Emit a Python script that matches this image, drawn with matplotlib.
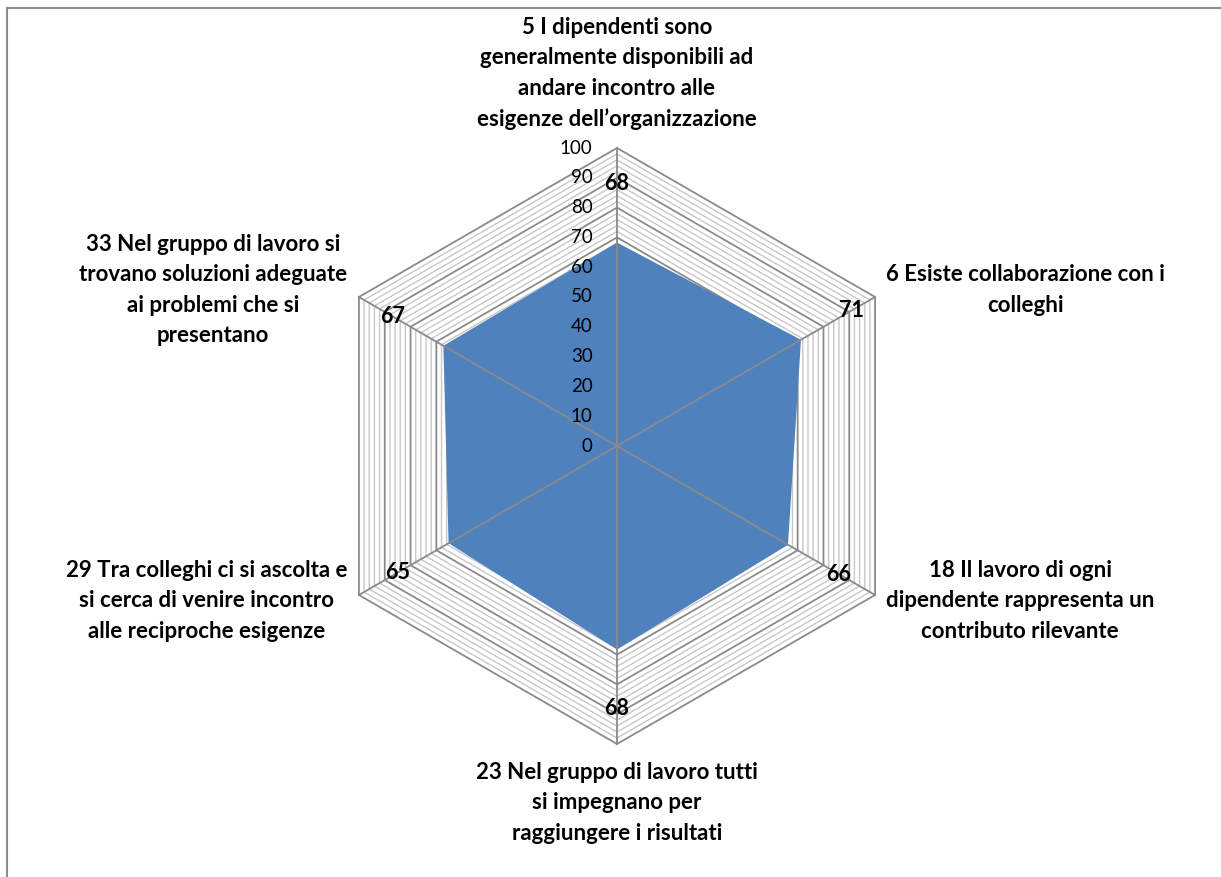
import numpy as np
import matplotlib
matplotlib.use("Agg")
import matplotlib.pyplot as plt
from matplotlib.patches import Rectangle, Polygon

# Dati
categorie = [
    "5 I dipendenti sono\ngeneralmente disponibili ad\nandare incontro alle\nesigenze dell\u2019organizzazione",
    "6 Esiste collaborazione con i\ncolleghi",
    "18 Il lavoro di ogni\ndipendente rappresenta un\ncontributo rilevante",
    "23 Nel gruppo di lavoro tutti\nsi impegnano per\nraggiungere i risultati",
    "29 Tra colleghi ci si ascolta e\nsi cerca di venire incontro\nalle reciproche esigenze",
    "33 Nel gruppo di lavoro si\ntrovano soluzioni adeguate\nai problemi che si\npresentano",
]
valori = [68, 71, 66, 68, 65, 67]
tick_major = [0, 10, 20, 30, 40, 50, 60, 70, 80, 90, 100]
tick_minor = list(range(2, 101, 2))

plt.rcParams['font.family'] = ['Lato', 'DejaVu Sans']

W, H, dpi = 1221, 877, 100
cx, cy, scala = 617, 446, 2.98  # centro in pixel, pixel per unita'

fig = plt.figure(figsize=(W / dpi, H / dpi), dpi=dpi)
ax = fig.add_axes([0, 0, 1, 1])
ax.set_xlim(-cx / scala, (W - cx) / scala)
ax.set_ylim(-(H - cy) / scala, cy / scala)
ax.axis('off')

n = len(valori)
ang = np.pi / 2 - np.arange(n) * 2 * np.pi / n  # in senso orario dall'alto
ux, uy = np.cos(ang), np.sin(ang)

def anello(r):
    return np.append(ux * r, ux[0] * r), np.append(uy * r, uy[0] * r)

# griglia esagonale
for r in tick_minor:
    if r % 10 == 0:
        continue
    x, y = anello(r)
    ax.plot(x, y, color='#c8c8c8', lw=1.0, zorder=1)
for r in tick_major[1:]:
    x, y = anello(r)
    ax.plot(x, y, color='#8a8a8a', lw=1.3, zorder=1.5)

# area dei valori
v = np.array(valori)
ax.add_patch(Polygon(np.column_stack([ux * v, uy * v]), closed=True,
                     facecolor='#4f81bd', edgecolor='#4f81bd', lw=1, zorder=2))

# raggi
for i in range(n):
    ax.plot([0, ux[i] * 100], [0, uy[i] * 100], color='#8a8a8a', lw=1.3, zorder=3)

# etichette dell'asse
for t in tick_major:
    ax.text(-8.2, t, str(t), ha='right', va='center', fontsize=13.5,
            color='#000000', zorder=4)

# etichette dei valori
for i in range(n):
    r = valori[i] + 20
    ax.text(ux[i] * r, uy[i] * r, str(valori[i]), ha='center', va='center',
            fontsize=15.5, fontweight='bold', zorder=4)

# etichette delle categorie
for i in range(n):
    x, y = ux[i] * 100, uy[i] * 100
    if abs(ux[i]) < 0.1:
        ha = 'center'
        va = 'bottom' if uy[i] > 0 else 'top'
        y = uy[i] * 106
    else:
        ha = 'left' if ux[i] > 0 else 'right'
        va = 'center'
        x = x + (3.7 if ux[i] > 0 else -4.0)
        y = y + (2.4 if uy[i] > 0 else -2.0)
    ax.text(x, y, categorie[i], ha=ha, va=va, multialignment='center',
            fontsize=16, fontweight='bold', linespacing=1.55, zorder=4)

# cornice
fig.patches.append(Rectangle((7 / W, -0.01), 1.1, (H - 8) / H + 0.01,
                             transform=fig.transFigure, fill=False,
                             edgecolor='#8c8c8c', lw=1.5))

fig.savefig('out.png', dpi=dpi)
